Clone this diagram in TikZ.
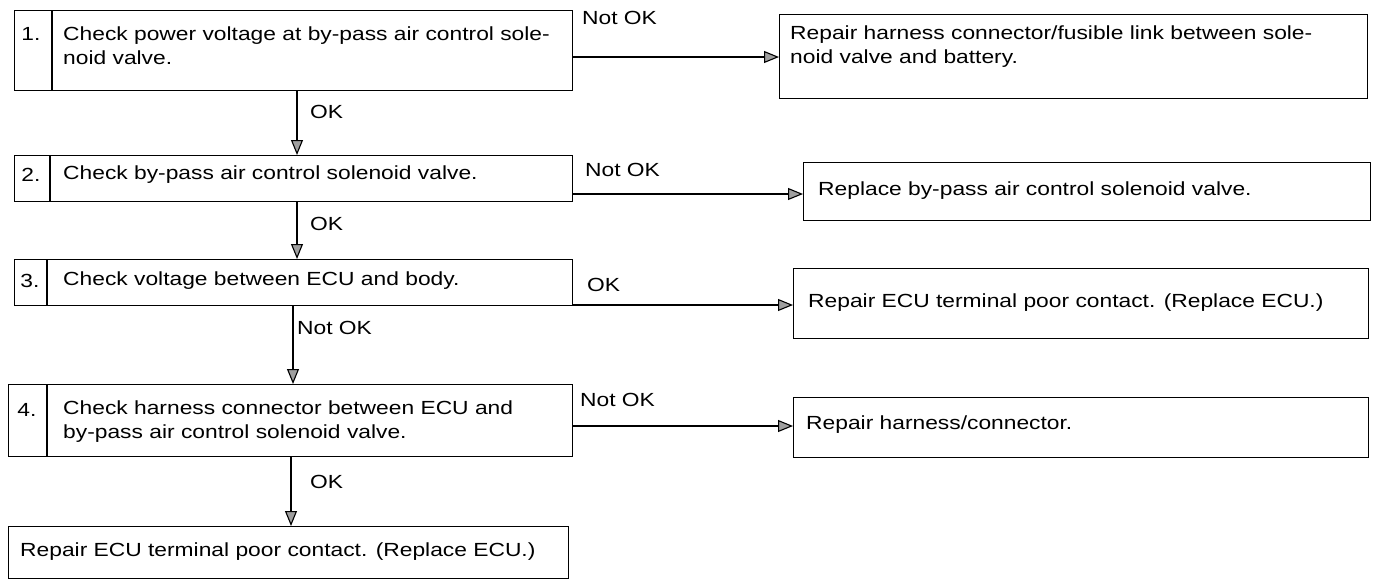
\documentclass[tikz,border=0pt]{standalone}
\usepackage{fontspec}
\setmainfont{Liberation Sans}[FakeStretch=1.2]
\usetikzlibrary{arrows.meta}
\begin{document}
\begin{tikzpicture}[x=1pt,y=-1pt,
  box/.style={draw, line width=1.1pt, inner sep=0pt, anchor=north west},
  divider/.style={line width=1.1pt},
  txt/.style={anchor=west, align=left, inner sep=0pt, font=\fontsize{19}{24}\selectfont},
  lbl/.style={anchor=west, inner sep=0pt, font=\fontsize{19}{24}\selectfont},
  num/.style={inner sep=0pt, font=\fontsize{19}{24}\selectfont},
  arr/.style={line width=1.1pt, -{Triangle[length=15pt,width=12pt,fill=gray!75]}},
]
\useasboundingbox (0,0) rectangle (1382,582);

% Row 1
\node[box, minimum width=558pt, minimum height=80pt] (b1) at (14,10) {};
\draw[divider] (b1.north -| 52,0) -- (b1.south -| 52,0);
\node[num] (n1) at (31,34) {1.};
\node[txt] (t1) at (63,46) {Check power voltage at by-pass air control sole-\\noid valve.};
\node[box, minimum width=588pt, minimum height=84pt] (r1) at (779,14) {};
\node[txt] (rt1) at (790,47) {Repair harness connector/fusible link between sole-\\noid valve and battery.};
\node[lbl] (l1) at (582,18) {Not OK};

% Row 2
\node[box, minimum width=558pt, minimum height=46pt] (b2) at (14,155) {};
\draw[divider] (b2.north -| 50,0) -- (b2.south -| 50,0);
\node[num] (n2) at (31,175) {2.};
\node[txt] (t2) at (63,175) {Check by-pass air control solenoid valve.};
\node[box, minimum width=567pt, minimum height=58pt] (r2) at (803,162) {};
\node[txt] (rt2) at (818,191) {Replace by-pass air control solenoid valve.};
\node[lbl] (l2) at (585,170) {Not OK};

% Row 3
\node[box, minimum width=558pt, minimum height=46pt] (b3) at (14,259) {};
\draw[divider] (b3.north -| 47,0) -- (b3.south -| 47,0);
\node[num] (n3) at (30,281) {3.};
\node[txt] (t3) at (63,281) {Check voltage between ECU and body.};
\node[box, minimum width=575pt, minimum height=70pt] (r3) at (793,268) {};
\node[txt] (rt3) at (808,303) {Repair ECU terminal poor contact. (Replace ECU.)};
\node[lbl] (l3) at (587,285) {OK};

% Row 4
\node[box, minimum width=564pt, minimum height=72pt] (b4) at (8,384) {};
\draw[divider] (b4.north -| 47,0) -- (b4.south -| 47,0);
\node[num] (n4) at (27,410) {4.};
\node[txt] (t4) at (63,422) {Check harness connector between ECU and\\by-pass air control solenoid valve.};
\node[box, minimum width=575pt, minimum height=60pt] (r4) at (793,397) {};
\node[txt] (rt4) at (806,425) {Repair harness/connector.};
\node[lbl] (l4) at (580,400) {Not OK};

% Final
\node[box, minimum width=560pt, minimum height=52pt] (f) at (8,526) {};
\node[txt] (ft) at (20,552) {Repair ECU terminal poor contact. (Replace ECU.)};

% Horizontal connectors
\draw[arr] (b1.east |- 0,57) -- (r1.west |- 0,57);
\draw[arr] (b2.east |- 0,194) -- (r2.west |- 0,194);
\draw[arr] (b3.east |- 0,305) -- (r3.west |- 0,305);
\draw[arr] (b4.east |- 0,426) -- (r4.west |- 0,426);

% Vertical connectors
\draw[arr] (b1.south -| 297,0) -- (b2.north -| 297,0);
\draw[arr] (b2.south -| 297,0) -- (b3.north -| 297,0);
\draw[arr] (b3.south -| 293,0) -- (b4.north -| 293,0);
\draw[arr] (b4.south -| 291,0) -- (f.north -| 291,0);

\node[lbl] (v1) at (310,112) {OK};
\node[lbl] (v2) at (310,224) {OK};
\node[lbl] (v3) at (297,328) {Not OK};
\node[lbl] (v4) at (310,482) {OK};
\end{tikzpicture}
\end{document}
